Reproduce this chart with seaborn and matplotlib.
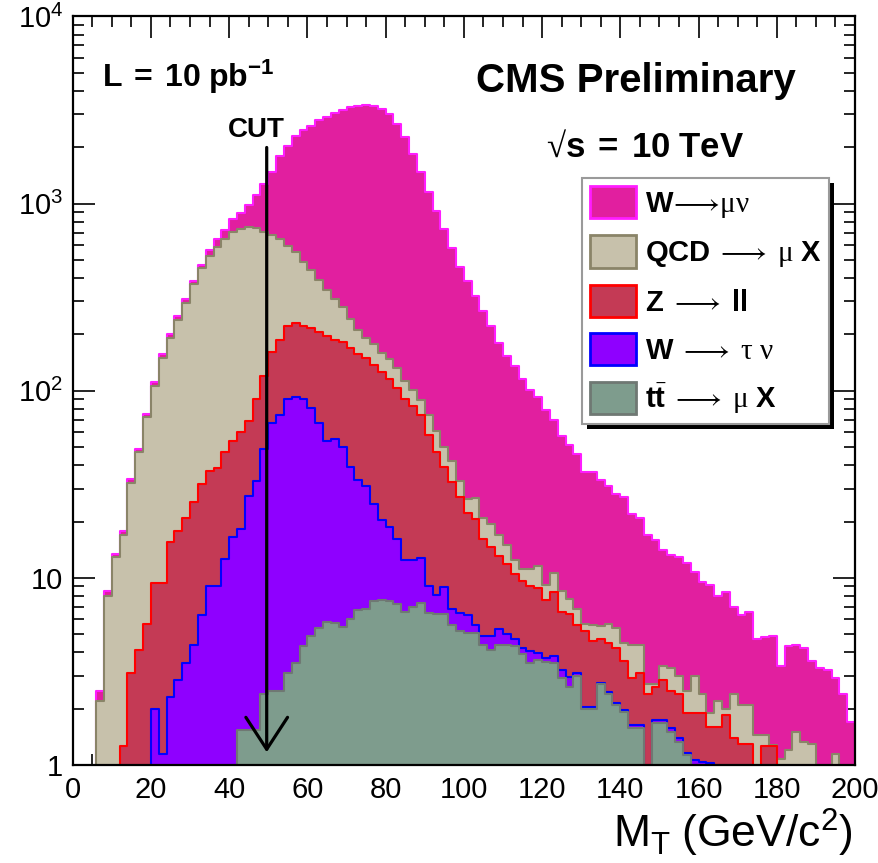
import numpy as np
import pandas as pd
import matplotlib
matplotlib.use("Agg")
import matplotlib.pyplot as plt
from matplotlib.patches import Patch, Rectangle
from matplotlib.ticker import MultipleLocator, LogLocator, NullFormatter, FixedLocator
import seaborn as sns

# 2 GeV bins of the transverse mass
bin_edges = list(range(0, 202, 2))
mt_centres = [e + 1 for e in bin_edges[:-1]]

# Heights of the stacked outlines (events per bin), from the top of the stack down
outline_all = [0, 0, 0, 2.5, 8.5, 13.4, 17.7, 33.7, 49, 75,
               111, 157, 200, 250, 308, 387, 471, 563, 648, 721,
               824, 893, 978, 1117, 1277, 1482, 1788, 2030, 2290, 2470,
               2610, 2790, 2900, 3050, 3170, 3266, 3342, 3358, 3305, 3221,
               3004, 2668, 2274, 1837, 1482, 1148, 918, 733, 582, 460,
               386, 319, 266, 221, 180, 153, 135, 115, 101, 93,
               79, 70, 57, 51, 46, 37, 36.6, 33.4, 31, 28,
               27, 22, 21, 17, 16, 14, 13.3, 13, 12, 10.8,
               9.5, 9.2, 8.0, 8.4, 7.0, 6.3, 6.6, 4.7, 4.8, 4.9,
               3.4, 4.3, 4.4, 4.2, 3.6, 3.3, 3.2, 2.9, 2.4, 1.7]

outline_qcd = [0, 0, 0, 2.2, 8.0, 12.9, 17.0, 32.3, 47, 72,
               106, 150, 192, 240, 295, 370, 455, 523, 583, 648,
               702, 732, 749, 741, 702, 683, 648, 591, 552, 485,
               440, 392, 346, 310, 280, 242, 211, 192, 178, 160,
               147, 133, 113, 101, 89, 74, 61, 50, 42, 33,
               26.4, 26.7, 21, 19.5, 17, 15, 12.5, 11.2, 11.2, 11.6,
               9.2, 10.6, 8.5, 7.7, 6.8, 5.7, 5.6, 5.5, 5.7, 5.4,
               4.5, 4.4, 4.4, 2.7, 2.7, 3.4, 3.3, 3.0, 2.5, 3.0,
               2.4, 1.9, 2.2, 2.0, 2.4, 2.1, 2.1, 1.45, 1.45, 1.28,
               1.08, 1.2, 1.5, 1.33, 1.3, 0, 0, 1.15, 0, 0]

outline_zll = [0, 0, 0, 0, 0, 0, 1.27, 3.1, 4.1, 5.7,
               9.4, 9.4, 15.5, 17.8, 21, 25.5, 31.6, 37.4, 38.5, 47,
               54, 60.5, 69, 90, 120, 161, 187, 223, 231, 222,
               217, 207, 197, 187, 183, 170, 157, 150, 137, 126,
               116, 103, 90, 83, 74, 58, 47, 39, 32.5, 27,
               22.2, 20.6, 16.2, 14.7, 13.1, 11.8, 10.5, 9.6, 9.0, 8.8,
               7.6, 8.4, 6.6, 6.4, 5.6, 5.2, 4.6, 4.7, 4.5, 4.2,
               3.6, 2.9, 3.1, 2.4, 2.6, 2.85, 2.5, 2.4, 1.9, 1.9,
               1.9, 1.6, 1.6, 1.85, 1.39, 1.3, 1.3, 0, 1.26, 1.26,
               0, 0, 0, 0, 0, 0, 0, 0, 0, 0]

outline_wtaunu = [0, 0, 0, 0, 0, 0, 0, 0, 0, 0,
                  2.0, 1.15, 2.3, 2.85, 3.5, 4.4, 6.3, 9.0, 9.1, 12.6,
                  16.5, 18.3, 27.3, 32.8, 49, 67, 74, 90, 92, 90,
                  81, 67.5, 54, 55, 50, 39, 33.4, 31, 24.7, 20.5,
                  18.8, 16.1, 12.5, 12.4, 12.8, 9.0, 8.1, 8.9, 6.8, 6.5,
                  6.3, 5.6, 4.9, 4.9, 5.3, 5.0, 4.7, 4.2, 4.05, 3.95,
                  3.75, 3.8, 3.2, 2.95, 3.1, 2.05, 2.03, 2.75, 2.45, 2.15,
                  1.97, 1.64, 1.64, 0, 1.74, 1.74, 1.57, 1.39, 1.16, 1.06,
                  1.04, 1.03, 0, 0, 0, 0, 0, 0, 0, 0,
                  0, 0, 0, 0, 0, 0, 0, 0, 0, 0]

outline_ttbar = [0, 0, 0, 0, 0, 0, 0, 0, 0, 0,
                 0, 0, 0, 0, 0, 0, 0, 0, 0, 0,
                 0, 1.54, 1.54, 1.54, 2.4, 2.5, 2.5, 3.1, 3.5, 4.3,
                 4.9, 5.4, 5.8, 5.75, 5.45, 6.0, 6.7, 6.85, 7.5, 7.65,
                 7.55, 7.25, 6.6, 7.0, 7.35, 6.5, 6.4, 6.4, 5.6, 5.2,
                 5.1, 5.1, 4.4, 4.1, 4.4, 4.35, 4.3, 3.9, 3.5, 3.65,
                 3.55, 3.5, 2.9, 2.6, 3.0, 2.0, 2.0, 2.7, 2.4, 2.1,
                 1.93, 1.57, 1.57, 0, 1.67, 1.67, 1.5, 1.33, 1.13, 0,
                 0, 0, 0, 0, 0, 0, 0, 0, 0, 0,
                 0, 0, 0, 0, 0, 0, 0, 0, 0, 0]

process_labels = [r"$\mathbf{W}\!\longrightarrow\!\mu\nu$",
                  r"$\mathbf{QCD}\ \longrightarrow\ \mu\ \mathbf{X}$",
                  r"$\mathbf{Z}\ \longrightarrow\ \mathbf{ll}$",
                  r"$\mathbf{W}\ \longrightarrow\ \tau\ \nu$",
                  r"$\mathbf{t}\bar{\mathbf{t}}\ \longrightarrow\ \mu\ \mathbf{X}$"]
fill_colors = ["#e11f9f", "#c7c1ab", "#c43a55", "#8f00ff", "#7e9c8d"]
line_colors = ["#ff1cff", "#8a8468", "#ff0000", "#0000ff", "#6f7873"]

x_tick_values = list(range(0, 201, 20))
y_tick_values = [1, 10, 100, 1000, 10000]
y_tick_labels = ["1", "10", r"$\mathsf{10^{2}}$", r"$\mathsf{10^{3}}$", r"$\mathsf{10^{4}}$"]

sns.set_style("ticks")
plt.rcParams.update({
    "font.family": ["Liberation Sans", "DejaVu Sans"],
    "mathtext.fontset": "custom",
    "mathtext.rm": "Liberation Serif",
    "mathtext.it": "Liberation Serif:italic",
    "mathtext.bf": "Liberation Sans:bold",
    "mathtext.sf": "Liberation Sans",
    "mathtext.default": "rm",
    "text.color": "black",
    "axes.labelcolor": "black",
    "xtick.color": "black",
    "ytick.color": "black",
    "axes.edgecolor": "black",
    "axes.linewidth": 1.5,
})

fig = plt.figure(figsize=(8.79, 8.63), dpi=100)
fig.patch.set_facecolor("white")
ax = fig.add_axes([0.0827, 0.1136, 0.8900, 0.8673])
ax.set_facecolor("white")

# Stacked histogram: each outline is drawn over the one above it
outlines = [outline_all, outline_qcd, outline_zll, outline_wtaunu, outline_ttbar]
for heights, face, edge in zip(outlines, fill_colors, line_colors):
    layer = pd.DataFrame({"mt": mt_centres, "events": heights})
    sns.histplot(data=layer, x="mt", weights="events", bins=bin_edges,
                 element="step", fill=True, color=face, facecolor=face,
                 edgecolor=edge, linewidth=1.5, alpha=1, ax=ax)

ax.set_yscale("log")
ax.set_xlim(0, 200)
ax.set_ylim(1, 1e4)
ax.set_xlabel("")
ax.set_ylabel("")

ax.xaxis.set_major_locator(FixedLocator(x_tick_values))
ax.set_xticklabels([str(v) for v in x_tick_values])
ax.xaxis.set_minor_locator(MultipleLocator(5))
ax.yaxis.set_major_locator(FixedLocator(y_tick_values))
ax.set_yticklabels(y_tick_labels)
ax.yaxis.set_minor_locator(LogLocator(base=10, subs=np.arange(2, 10)))
ax.yaxis.set_minor_formatter(NullFormatter())

ax.tick_params(which="both", direction="in", top=True, right=True,
               colors="black", width=1.2)
ax.tick_params(which="major", length=16)
ax.tick_params(axis="x", which="major", pad=8, labelsize=21)
ax.tick_params(axis="y", which="major", pad=7, labelsize=21)
ax.tick_params(which="minor", length=8)
for side in ax.spines.values():
    side.set_linewidth(1.6)
    side.set_color("black")
    side.set_zorder(6)

# Selection cut
ax.annotate("", xy=(49.6, 1.17), xytext=(49.6, 1995),
            arrowprops=dict(arrowstyle="->,head_length=1.15,head_width=0.75",
                            lw=2.3, color="black", shrinkA=0, shrinkB=0,
                            mutation_scale=20),
            zorder=7)
ax.text(0.2343, 0.839, "CUT", transform=ax.transAxes, fontsize=20,
        fontweight="bold", ha="center", va="baseline", zorder=7)

ax.text(0.0375, 0.906, r"$\mathbf{L\ =\ 10\ pb^{-1}}$", transform=ax.transAxes,
        fontsize=23, ha="left", va="baseline")
ax.text(0.720, 0.8995, "CMS Preliminary", transform=ax.transAxes,
        fontsize=29, fontweight="bold", ha="center", va="baseline")
ax.text(0.7316, 0.8127, "$\\mathrm{\u221a}\\mathbf{s\\ =\\ 10\\ TeV}$", transform=ax.transAxes,
        fontsize=25, ha="center", va="baseline")

ax.text(0.9975, -0.111, r"$\mathsf{M_{T}\ (GeV/c^{2})}$", transform=ax.transAxes,
        fontsize=32, ha="right", va="baseline")

# Legend with a drop shadow
handles = [Patch(facecolor=f, edgecolor=e, linewidth=2, label=l)
           for f, e, l in zip(fill_colors, line_colors, process_labels)]
leg = ax.legend(handles=handles, loc="upper left", bbox_to_anchor=(0.651, 0.7842),
                borderaxespad=0, fontsize=21, frameon=True, fancybox=False,
                framealpha=1, edgecolor="#9a9a9a", borderpad=0.27,
                handlelength=1.58, handleheight=1.34, handletextpad=0.3,
                labelspacing=0.53)
leg.get_frame().set_linewidth(1.5)
leg.set_zorder(8)

fig.canvas.draw()
renderer = fig.canvas.get_renderer()
box = leg.get_frame().get_window_extent(renderer)
inv = ax.transAxes.inverted()
(x0, y0), (x1, y1) = inv.transform([[box.x0 + 5, box.y0 - 5], [box.x1 + 5, box.y1 - 5]])
ax.add_patch(Rectangle((x0, y0), x1 - x0, y1 - y0, transform=ax.transAxes,
                       facecolor="black", edgecolor="none", zorder=7.5, clip_on=False))

fig.savefig("out.png", dpi=100)
